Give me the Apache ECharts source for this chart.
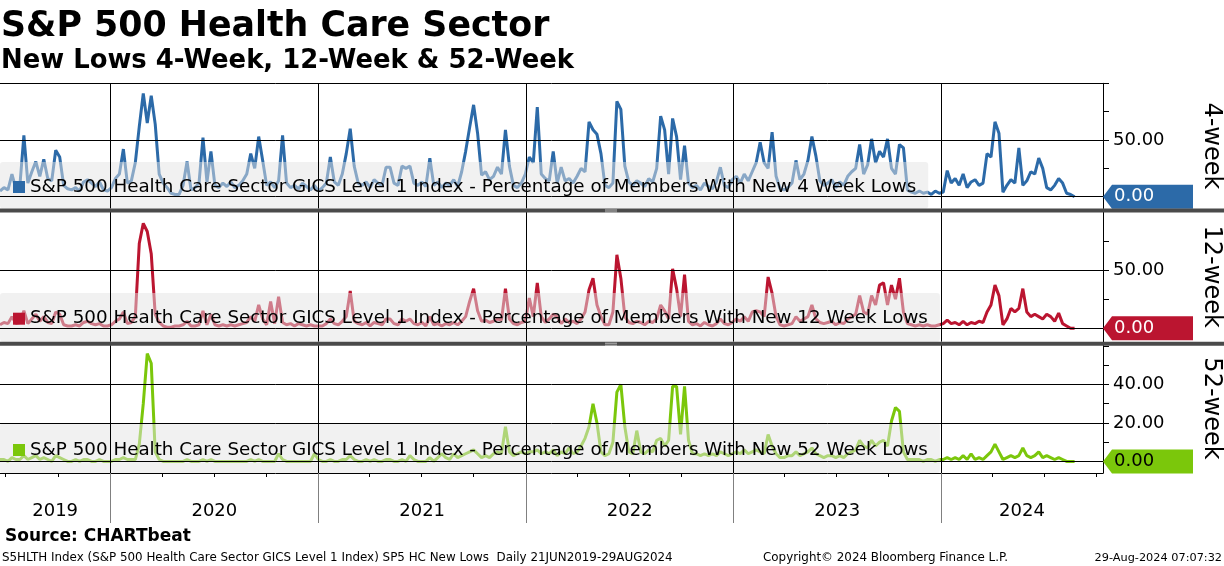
<!DOCTYPE html>
<html><head><meta charset="utf-8">
<script src="https://cdn.jsdelivr.net/npm/echarts@6/dist/echarts.min.js"></script>
<style>html,body{margin:0;padding:0;background:#fff}#c{width:1224px;height:566px}</style>
</head><body><div id="c"></div>
<script>
// ---- categories / axes ----
const startDate = [2019, 5, 21];      // first weekly observation (21 Jun 2019)
const axisEnd = [2024, 9, 12];        // right edge of the plot area
const years = [2019, 2020, 2021, 2022, 2023, 2024];
const yearStartWeek = [0, 28, 80, 133, 185, 237]; // week index of first observation in each year
const ticks4 = [0, 25, 50, 75, 100];
const labels4 = [50];
const ticks12 = [0, 25, 50, 75, 100];
const labels12 = [50];
const ticks52 = [0, 10, 20, 30, 40, 50, 60];
const labels52 = [20, 40];

// ---- series values (weekly readings, % of members) ----
const w4_2019 = [5,8,6,20,7,10,54,12,22,31,18,33,16,14,41,35,10,7,6,8,5,13,15,12,9,13,6,5];
const w4_2020 = [8,16,20,42,12,14,30,62,91,65,89,64,20,12,8,3,2,2,10,31,6,8,12,52,13,40,10,8,12,9,13,8,10,14,20,38,25,53,32,10,13,8,14,54,12,8,10,7,12,9,6,10];
const w4_2021 = [5,8,12,35,13,10,20,38,60,27,12,10,13,8,15,12,10,26,26,12,10,27,25,27,12,10,13,9,34,10,13,8,12,10,15,9,22,40,61,81,56,19,22,15,18,26,20,59,27,10,8,12,20];
const w4_2022 = [35,30,79,20,16,14,40,12,26,14,16,12,18,25,22,66,59,55,38,10,8,12,84,77,27,13,10,14,12,9,16,13,25,71,59,20,69,53,15,45,12,8,10,6,12,9,7,13,26,10,8,15];
const w4_2023 = [18,12,20,14,22,30,48,30,25,57,18,7,6,8,12,32,15,20,32,53,36,14,10,12,15,8,13,10,18,22,25,46,20,28,51,30,40,35,51,25,20,46,43,6,4,3,5,3,4,2,5,3];
const w4_2024 = [4,23,12,16,10,20,8,13,15,10,12,38,35,66,56,4,10,15,12,43,10,14,22,20,34,25,8,6,10,16,12,3,2,0];

const w12_2019 = [3,5,4,10,4,5,15,4,8,12,6,10,5,4,14,12,3,2,2,3,2,5,6,4,3,4,2,2];
const w12_2020 = [3,6,8,14,4,5,10,73,90,83,64,12,5,2,1,1,2,2,3,6,2,2,3,15,3,12,3,2,3,2,3,2,3,4,5,10,6,20,8,3,23,4,27,5,3,4,2,4,3,2,3,2];
const w12_2021 = [2,2,4,8,4,3,6,10,32,6,4,3,5,2,5,4,3,8,8,4,3,8,6,8,4,3,5,2,10,3,4,2,4,3,5,3,6,10,23,34,15,6,7,5,6,8,7,34,8,4,3,5,6];
const w12_2022 = [26,10,39,10,5,8,12,10,4,8,5,6,4,8,14,33,43,20,10,3,3,14,63,43,10,5,4,6,5,3,6,5,8,20,15,8,51,34,10,46,6,3,4,2,5,3,2,4,8,4,3,5];
const w12_2023 = [8,6,10,6,14,15,14,10,44,30,10,3,2,3,4,10,6,8,10,20,8,5,4,5,6,3,5,4,8,10,12,28,14,12,28,20,37,39,20,37,25,43,14,4,3,2,3,2,3,2,2,3];
const w12_2024 = [4,7,4,5,3,6,3,5,4,6,5,14,20,37,28,3,8,17,14,17,34,14,10,12,10,8,12,10,6,13,4,2,0,0];

const w52_2019 = [1,1,0,2,1,1,3,1,2,3,1,2,1,0,3,2,1,0,0,1,0,1,1,0,0,1,0,0];
const w52_2020 = [0,1,1,2,1,1,1,9,30,56,51,5,1,0,0,0,0,0,0,1,0,0,0,1,0,1,0,0,0,0,0,0,0,0,0,1,0,1,0,0,0,0,4,1,0,0,0,0,0,0,0,4];
const w52_2021 = [1,0,0,1,0,0,1,1,3,1,0,0,1,0,1,0,0,1,1,0,0,1,0,3,1,0,0,0,2,0,2,4,2,1,4,2,3,4,5,6,4,2,3,2,4,5,4,18,5,3,4,5,4];
const w52_2022 = [5,5,6,4,5,4,6,3,5,4,7,4,5,8,12,18,30,20,5,3,4,10,36,40,18,5,4,16,5,4,6,5,11,12,8,11,39,39,14,39,11,4,4,3,4,3,4,3,5,4,3,4];
const w52_2023 = [5,4,6,4,5,6,5,4,14,8,4,2,2,3,3,5,3,4,5,7,4,3,2,3,3,2,3,2,4,5,6,11,8,7,11,8,10,11,8,21,28,26,5,1,1,1,1,0,1,1,0,1];
const w52_2024 = [1,2,1,2,1,3,1,4,1,2,1,3,5,9,5,1,2,3,2,3,7,3,2,3,5,2,3,2,1,2,1,0,0,0];

const names = [
  'S&P 500 Health Care Sector GICS Level 1 Index - Percentage of Members With New 4 Week Lows',
  'S&P 500 Health Care Sector GICS Level 1 Index - Percentage of Members With New 12 Week Lows',
  'S&P 500 Health Care Sector GICS Level 1 Index - Percentage of Members With New 52 Week Lows'
];

// ---- build ----
const FONT = 'DejaVu Sans';
const DAY = 86400000;
const T0 = Date.UTC(...startDate);
const TMAX = Date.UTC(...axisEnd);
function build(arrs) {
  const out = [];
  arrs.forEach((arr, yi) => arr.forEach((v, i) => out.push([T0 + (yearStartWeek[yi] + i) * 7 * DAY, v])));
  return out;
}
const d4 = build([w4_2019, w4_2020, w4_2021, w4_2022, w4_2023, w4_2024]);
const d12 = build([w12_2019, w12_2020, w12_2021, w12_2022, w12_2023, w12_2024]);
const d52 = build([w52_2019, w52_2020, w52_2021, w52_2022, w52_2023, w52_2024]);

const yearBounds = years.slice(1).map(y => Date.UTC(y, 0, 1));
const quarterTicks = [];
for (let y = 2019; y <= 2024; y++) for (let m = 0; m < 12; m += 3) {
  const t = Date.UTC(y, m, 1);
  if (t > T0 && t < TMAX) quarterTicks.push(t);
}
const yearMid = years.map((y, i) => {
  const a = Math.max(T0, Date.UTC(y, 0, 1));
  const b = Math.min(TMAX, Date.UTC(y + 1, 0, 1));
  return (a + b) / 2;
});

const COLORS = ['#2c6aa8', '#bb1530', '#7bc70b'];
const grids = [
  { top: 83.3, height: 125.2, min: -10.4, max: 100 },
  { top: 211.7, height: 130, min: -11.5, max: 100 },
  { top: 344, height: 129, min: -6, max: 61 }
];

function gridLines(hVals) {
  return {
    silent: true, symbol: 'none', animation: false, label: { show: false },
    lineStyle: { color: '#000', width: 1, type: 'solid' },
    emphasis: { disabled: true },
    data: [...yearBounds.map(t => ({ xAxis: t })), ...hVals.map(v => ({ yAxis: v }))]
  };
}
function lastBox(data, color, textColor) {
  const last = data[data.length - 1][1];
  return {
    silent: true, animation: false,
    symbol: 'path://M0,12L9,0L90,0L90,24L9,24Z', symbolSize: [90, 24], symbolKeepAspect: false,
    symbolOffset: [45, 0],
    itemStyle: { color: color },
    label: { show: true, position: 'insideLeft', distance: 11, color: textColor, fontFamily: FONT, fontSize: 18,
      formatter: p => Number(p.value).toFixed(2) },
    data: [{ coord: [TMAX, last], value: last }]
  };
}
function yAx(i, ticks, labels, name) {
  return {
    gridIndex: i, type: 'value', position: 'right', min: grids[i].min, max: grids[i].max,
    axisLine: { show: true, onZero: false, lineStyle: { color: '#000', width: 1 } },
    axisTick: { show: true, customValues: ticks, length: 6, lineStyle: { color: '#000' } },
    axisLabel: { show: true, customValues: labels, formatter: v => Number(v).toFixed(2), color: '#000', fontFamily: FONT, fontSize: 18, margin: 10 },
    splitLine: { show: false },
    name: name, nameLocation: 'middle', nameRotate: -90, nameGap: 96,
    nameTextStyle: { color: '#000', fontFamily: FONT, fontSize: 24 }
  };
}
function xAx(i) {
  return { gridIndex: i, type: 'value', min: T0, max: TMAX, show: false, axisLine: { onZero: false }, splitLine: { show: false } };
}
function legend(i, top, pad) {
  return {
    data: [names[i]], left: 0, top: top, orient: 'horizontal', selectedMode: false,
    icon: 'rect', itemWidth: 12, itemHeight: 12,
    padding: pad, backgroundColor: 'rgba(228,228,228,0.5)', borderRadius: 3,
    textStyle: { color: '#000', fontFamily: FONT, fontSize: 18.3, lineHeight: 21 }
  };
}
function lineSeries(i, data, hVals, textColor) {
  return {
    name: names[i], type: 'line', xAxisIndex: i, yAxisIndex: i, data: data,
    showSymbol: false, symbol: 'none', clip: false, silent: true, animation: false,
    lineStyle: { color: COLORS[i], width: 3 }, itemStyle: { color: COLORS[i] },
    emphasis: { disabled: true },
    markLine: gridLines(hVals),
    markPoint: lastBox(data, COLORS[i], textColor)
  };
}
function grid(top, height) {
  return { left: 0, right: 121, top: top, height: height, containLabel: false, outerBoundsMode: 'none' };
}

const chart = echarts.init(document.getElementById('c'), null, { renderer: 'canvas' });
chart.setOption({
  animation: false,
  backgroundColor: '#fff',
  textStyle: { fontFamily: FONT },
  title: [
    { text: 'S&P 500 Health Care Sector', left: 1, top: 9.2, padding: 0,
      textStyle: { fontFamily: FONT, fontWeight: 'bold', fontSize: 34.8, color: '#000' } },
    { text: 'New Lows 4-Week, 12-Week & 52-Week', left: 1, top: 48, padding: 0,
      textStyle: { fontFamily: FONT, fontWeight: 'bold', fontSize: 25.9, color: '#000' } }
  ],
  grid: [
    grid(grids[0].top, grids[0].height),
    grid(grids[1].top, grids[1].height),
    grid(grids[2].top, grids[2].height),
    grid(473, 50)
  ],
  xAxis: [
    xAx(0), xAx(1), xAx(2),
    { gridIndex: 3, type: 'value', min: T0, max: TMAX, position: 'top',
      axisLine: { show: true, onZero: false, lineStyle: { color: '#000', width: 1 } },
      axisTick: { show: true, inside: true, length: 4, customValues: quarterTicks, lineStyle: { color: '#000' } },
      axisLabel: { show: true, inside: true, margin: 29, customValues: yearMid,
        formatter: v => String(new Date(v).getUTCFullYear()), color: '#000', fontFamily: FONT, fontSize: 18 },
      splitLine: { show: false } }
  ],
  yAxis: [
    yAx(0, ticks4, labels4, '4-week'),
    yAx(1, ticks12, labels12, '12-week'),
    yAx(2, ticks52, labels52, '52-week'),
    { gridIndex: 3, type: 'value', min: 0, max: 1, show: false, splitLine: { show: false } }
  ],
  legend: [
    legend(0, 162, [14.5, 12, 11, 13]),
    legend(1, 293, [15.2, 12, 12.5, 13]),
    legend(2, 423.3, [16.2, 12, 12.5, 13])
  ],
  series: [
    lineSeries(0, d4, [0, 50, 100], '#fff'),
    lineSeries(1, d12, [0, 50], '#fff'),
    lineSeries(2, d52, [0, 20, 40], '#000'),
    { type: 'line', xAxisIndex: 3, yAxisIndex: 3, data: [], silent: true, animation: false,
      markLine: { silent: true, symbol: 'none', animation: false, label: { show: false },
        lineStyle: { color: '#808080', width: 1, type: 'solid' }, emphasis: { disabled: true },
        data: yearBounds.map(t => ({ xAxis: t })) } }
  ],
  graphic: [
    { type: 'rect', silent: true, z: 100, shape: { x: 0, y: 208.5, width: 1224, height: 4 }, style: { fill: '#4a4a4a' } },
    { type: 'rect', silent: true, z: 100, shape: { x: 0, y: 341.7, width: 1224, height: 4 }, style: { fill: '#4a4a4a' } },
    { type: 'rect', silent: true, z: 101, shape: { x: 605, y: 209.5, width: 12, height: 1 }, style: { fill: '#bdbdbd' } },
    { type: 'rect', silent: true, z: 101, shape: { x: 605, y: 211.5, width: 12, height: 1 }, style: { fill: '#bdbdbd' } },
    { type: 'rect', silent: true, z: 101, shape: { x: 605, y: 342.7, width: 12, height: 1 }, style: { fill: '#bdbdbd' } },
    { type: 'rect', silent: true, z: 101, shape: { x: 605, y: 344.7, width: 12, height: 1 }, style: { fill: '#bdbdbd' } },
    { type: 'text', silent: true, x: 5, y: 537, style: { text: 'Source: CHARTbeat', font: 'bold 17px "DejaVu Sans"', fill: '#000', textVerticalAlign: 'middle' } },
    { type: 'text', silent: true, x: 2, y: 558, style: { text: 'S5HLTH Index (S&P 500 Health Care Sector GICS Level 1 Index) SP5 HC New Lows  Daily 21JUN2019-29AUG2024', font: '11.9px "DejaVu Sans"', fill: '#000', textVerticalAlign: 'middle' } },
    { type: 'text', silent: true, x: 763, y: 558, style: { text: 'Copyright\u00A9 2024 Bloomberg Finance L.P.', font: '11.9px "DejaVu Sans"', fill: '#000', textVerticalAlign: 'middle' } },
    { type: 'text', silent: true, x: 1222, y: 558, style: { text: '29-Aug-2024 07:07:32', font: '11.3px "DejaVu Sans"', fill: '#000', textAlign: 'right', textVerticalAlign: 'middle' } }
  ]
});
</script>
</body></html>
